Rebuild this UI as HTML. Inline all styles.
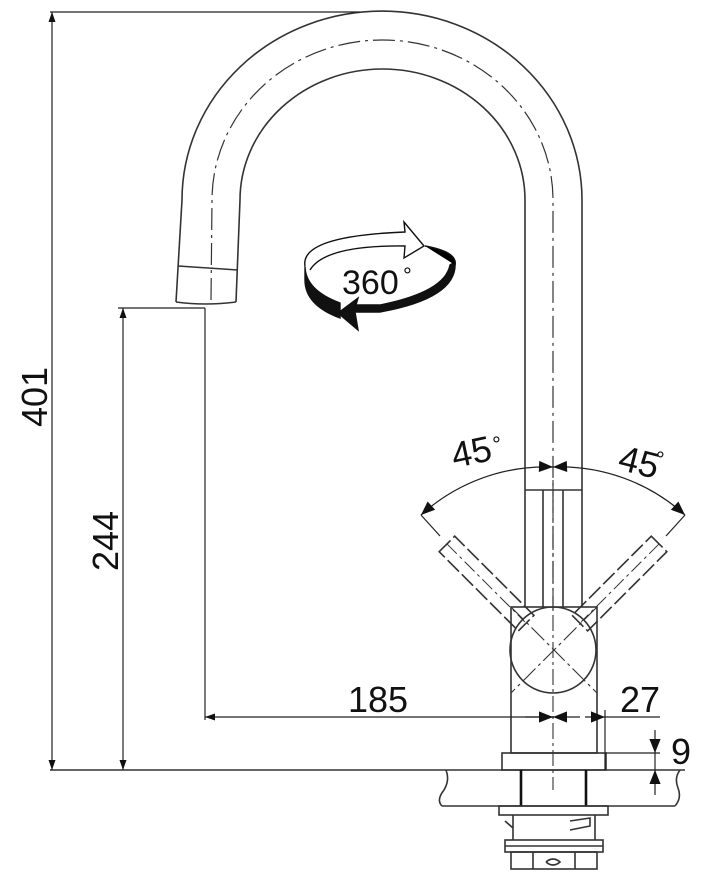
<!DOCTYPE html>
<html><head><meta charset="utf-8"><style>html,body{margin:0;padding:0;background:#fff}svg{display:block}</style></head>
<body>
<svg width="708" height="880" viewBox="0 0 708 880" xmlns="http://www.w3.org/2000/svg" font-family="Liberation Sans, sans-serif">
<defs>
<marker id="a" viewBox="0 0 10 10" refX="10" refY="5" markerWidth="10" markerHeight="10" markerUnits="userSpaceOnUse" orient="auto-start-reverse"><path d="M0,1.5 L10,5 L0,8.5z" fill="#111"/></marker>
<marker id="b" viewBox="0 0 10 10" refX="10" refY="5" markerWidth="22" markerHeight="14" markerUnits="userSpaceOnUse" orient="auto-start-reverse"><path d="M0,1 L10,5 L0,9z" fill="#111"/></marker>
</defs>
<g fill="none" stroke="#333" stroke-width="1.6">
<path d="M176,302 L182,200 A200,189 0 0 1 582,200 L582,607"/>
<path d="M236,302 L240,200 A142.5,131 0 0 1 525,200 L525,607"/>
<path d="M211,300 L212,200 A170.5,160 0 0 1 553,200 L553,610" stroke-dasharray="22,5,3,5" stroke-width="1.2"/>
<path d="M176,302 Q205,306 236,302"/>
<path d="M178,266 L238,270"/>
<path d="M525,490 H582 M543,490 V607 M563,490 V607"/>
<rect x="511" y="607" width="86" height="146"/>
<circle cx="553" cy="650" r="43"/>
<path d="M511,607 L597,693 M597,607 L511,693" stroke-dasharray="18,4,3,4" stroke-width="1.1"/>
<g transform="rotate(-45 553 650)">
<rect x="542" y="500" width="22" height="112" stroke-dasharray="16,4"/>
<line x1="553" y1="500" x2="553" y2="610" stroke-dasharray="14,4,3,4" stroke-width="1"/>
</g>
<g transform="rotate(45 553 650)">
<rect x="542" y="500" width="22" height="112" stroke-dasharray="16,4"/>
<line x1="553" y1="500" x2="553" y2="610" stroke-dasharray="14,4,3,4" stroke-width="1"/>
</g>
<rect x="502" y="753" width="104" height="17"/>
<path d="M50,770 H685"/>
<path d="M442,806 H675 M442,806 Q436,800 444,790 Q450,780 446,770 M675,806 Q682,798 678,788 Q674,778 680,770"/>
<path d="M521,770 V806 M586,770 V806" stroke-width="2.6" stroke="#111"/>
<rect x="499" y="806" width="109" height="9"/>
<path d="M513,815 V840 M595,815 V840 M505,821 L513,828 M570,821 L590,818 L590,826 L570,830"/>
<rect x="505" y="840" width="98" height="12"/>
<path d="M505,846 H603"/>
<rect x="511" y="852" width="86" height="17"/>
<path d="M533,852 V869 M575,852 V869 M546,862 Q553,856 560,862 Q553,868 546,862"/>
<path d="M553,480 V790" stroke-dasharray="16,4,3,4" stroke-width="1.1"/>
<g stroke="#222" stroke-width="1.2">
<path d="M50,12 H360"/>
<line x1="52" y1="12" x2="52" y2="770" marker-start="url(#a)" marker-end="url(#a)"/>
<path d="M118,308 H205"/>
<line x1="123" y1="308" x2="123" y2="770" marker-start="url(#a)" marker-end="url(#a)"/>
<path d="M205,308 V720"/>
<line x1="205" y1="717" x2="553" y2="717" marker-start="url(#a)" marker-end="url(#a)"/>
<line x1="525" y1="717" x2="553" y2="717" marker-end="url(#b)"/>
<line x1="580" y1="717" x2="553" y2="717" marker-end="url(#b)"/>
<line x1="585" y1="717" x2="605" y2="717" marker-end="url(#b)"/>
<path d="M605,717 H660 M605,710 V770"/>
<path d="M606,753 H660"/>
<line x1="655" y1="730" x2="655" y2="753" marker-end="url(#b)"/>
<line x1="655" y1="795" x2="655" y2="770" marker-end="url(#b)"/>
<path d="M655,753 V770"/>
<path d="M421,515 A186,186 0 0 1 553,467" marker-start="url(#b)" marker-end="url(#b)"/>
<path d="M685,515 A186,186 0 0 0 553,467" marker-start="url(#b)" marker-end="url(#b)"/>
<path d="M421,515 L440,536 M685,515 L666,536"/>
</g>
</g>
<g stroke="#111" stroke-width="1.4">
<path d="M305,266 Q305,290 340,303 L340,318 Q305,305 305,280 Z" fill="#111"/>
<path d="M455,262 Q458,298 380,312 L355,312 L358,330 L338,313 L358,298 L356,305 L380,305 Q445,292 450,265 Z" fill="#111"/>
<path d="M305,266 Q300,236 405,232 L404,222 L424,246 L404,258 L405,246 Q325,245 310,270" fill="#fff"/>
<path d="M425,246 Q458,252 455,265"/>
</g>
<text x="342" y="294" font-size="34" fill="#111">360</text>
<text x="403" y="283" font-size="22" fill="#111">°</text>
<g font-size="36" fill="#111">
<text transform="translate(47,397) rotate(-90)" text-anchor="middle">401</text>
<text transform="translate(118,541) rotate(-90)" text-anchor="middle">244</text>
<text x="378" y="712" text-anchor="middle">185</text>
<text x="640" y="712" text-anchor="middle">27</text>
<text x="681" y="764" text-anchor="middle">9</text>
<text transform="translate(474,464) rotate(-12)" text-anchor="middle">45</text>
<text x="492" y="452" font-size="22">°</text>
<text transform="translate(636,474) rotate(14)" text-anchor="middle">45</text>
<text x="656" y="467" font-size="22">°</text>
</g>
</svg>
</body></html>
